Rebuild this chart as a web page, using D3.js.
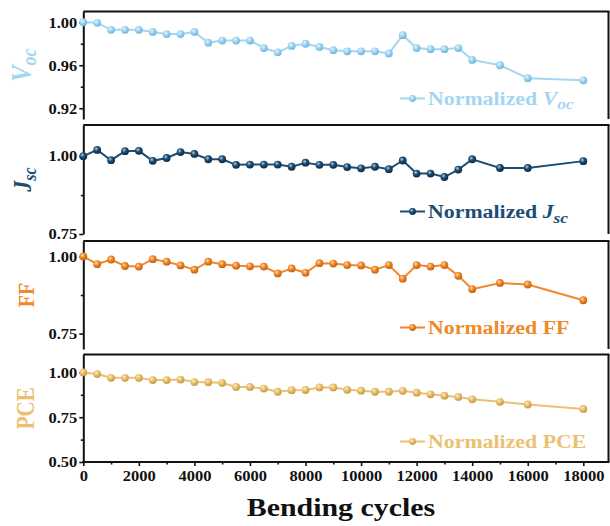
<!DOCTYPE html>
<html>
<head>
<meta charset="utf-8">
<script src="https://cdn.jsdelivr.net/npm/d3@7"></script>
<style>
  html, body { margin: 0; padding: 0; background: #fff; }
  svg { display: block; font-family: "Liberation Serif", "Times New Roman", serif; font-weight: bold; }
  .ya text { transform-box: fill-box; transform-origin: 100% 50%; transform: scaleX(1.1); }
  .xa text { transform-box: fill-box; transform-origin: 50% 50%; transform: scaleX(1.1); }
  .leg { transform-box: fill-box; transform-origin: 0% 50%; transform: scaleX(1.15); }
  .xtitle { transform-box: fill-box; transform-origin: 50% 50%; transform: scaleX(1.15); }
</style>
</head>
<body>
<svg id="chart" width="610" height="526"></svg>
<script>
// Bending cycles at which each device was measured
const cycles = [0, 500, 1000, 1500, 2000, 2500, 3000, 3500, 4000, 4500, 5000, 5500, 6000, 6500, 7000,
  7500, 8000, 8500, 9000, 9500, 10000, 10500, 11000, 11500, 12000, 12500, 13000, 13500, 14000,
  15000, 16000, 18000];

// Normalized photovoltaic parameters
const vocValues = [1.000, 0.9995, 0.993, 0.993, 0.993, 0.991, 0.989, 0.989, 0.991, 0.981, 0.983, 0.983,
  0.983, 0.976, 0.972, 0.978, 0.980, 0.977, 0.974, 0.973, 0.973, 0.973, 0.971, 0.988, 0.976, 0.975,
  0.975, 0.976, 0.965, 0.960, 0.948, 0.946];
const jscValues = [1.000, 1.020, 0.987, 1.016, 1.017, 0.985, 0.994, 1.013, 1.007, 0.990, 0.990, 0.972,
  0.973, 0.973, 0.973, 0.966, 0.979, 0.972, 0.972, 0.965, 0.961, 0.966, 0.958, 0.986, 0.944, 0.944,
  0.933, 0.957, 0.990, 0.962, 0.962, 0.984];
const ffValues = [1.000, 0.975, 0.990, 0.969, 0.967, 0.991, 0.983, 0.971, 0.957, 0.983, 0.975, 0.970,
  0.968, 0.967, 0.945, 0.961, 0.947, 0.978, 0.977, 0.972, 0.971, 0.957, 0.972, 0.928, 0.972, 0.967,
  0.972, 0.937, 0.894, 0.914, 0.909, 0.858];
const pceValues = [1.000, 0.991, 0.970, 0.970, 0.970, 0.957, 0.957, 0.960, 0.946, 0.945, 0.942, 0.919,
  0.919, 0.910, 0.892, 0.901, 0.902, 0.916, 0.916, 0.903, 0.898, 0.892, 0.892, 0.897, 0.887, 0.878,
  0.870, 0.863, 0.850, 0.836, 0.821, 0.796];

// Tick labels
const cycleTicks = [0, 2000, 4000, 6000, 8000, 10000, 12000, 14000, 16000, 18000];
const cycleMinor = [1000, 3000, 5000, 7000, 9000, 11000, 13000, 15000, 17000];
const vocTicks = [0.92, 0.96, 1.00];
const vocMinor = [0.94, 0.98];
const jscTicks = [0.75, 1.00];
const jscMinor = [0.875];
const ffTicks = [0.75, 1.00];
const ffMinor = [0.875];
const pceTicks = [0.50, 0.75, 1.00];
const pceMinor = [0.625, 0.875];

const svg = d3.select("#chart");
const left = 83.3, right = 608.5;
const x = d3.scaleLinear().domain([0, 18000]).range([left, 583.3]);

const panels = [
  { id: "voc", values: vocValues, color: "#a3d6f2", dark: "#6fb6dc", domain: [0.91, 1.01],
    ticks: vocTicks, minor: vocMinor, top: 11.5, bottom: 119, legendY: 105,
    title: [["V", 25, 0], ["oc", 18, 4]], titleX: 31, legend: [["V", true, 0], ["oc", true, 4]] },
  { id: "jsc", values: jscValues, color: "#1b4d75", dark: "#0d2c47", domain: [0.75, 1.10],
    ticks: jscTicks, minor: jscMinor, top: 125, bottom: 234, legendY: 218,
    title: [["J", 22, 0], ["sc", 16, 4]], titleX: 31, legend: [["J", true, 0], ["sc", true, 5]] },
  { id: "ff", values: ffValues, color: "#f0892a", dark: "#c4630d", domain: [0.70, 1.05],
    ticks: ffTicks, minor: ffMinor, top: 241, bottom: 349, legendY: 334,
    title: [["FF", 20, 0]], titleX: 34, legend: [["FF", false, 0]] },
  { id: "pce", values: pceValues, color: "#ebc171", dark: "#c79a3e", domain: [0.50, 1.10],
    ticks: pceTicks, minor: pceMinor, top: 354.5, bottom: 462, legendY: 448,
    title: [["PCE", 21, 0]], titleX: 34, legend: [["PCE", false, 0]] }
];

const defs = svg.append("defs");

panels.forEach((p) => {
  // shaded sphere look for the markers
  const grad = defs.append("radialGradient").attr("id", "g-" + p.id)
    .attr("cx", "38%").attr("cy", "35%").attr("r", "65%");
  grad.append("stop").attr("offset", "0%").attr("stop-color", d3.interpolateRgb(p.color, "#fff")(0.7));
  grad.append("stop").attr("offset", "45%").attr("stop-color", p.color);
  grad.append("stop").attr("offset", "100%").attr("stop-color", p.dark);

  const y = d3.scaleLinear().domain(p.domain).range([p.bottom, p.top]);
  const g = svg.append("g");

  // frame: top and right edges
  g.append("line").attr("x1", left).attr("x2", right + 1).attr("y1", p.top).attr("y2", p.top)
    .attr("stroke", "#111").attr("stroke-width", 2);
  g.append("line").attr("x1", right).attr("x2", right).attr("y1", p.top).attr("y2", p.bottom)
    .attr("stroke", "#111").attr("stroke-width", 2);

  // minor ticks on the left axis
  g.append("g").attr("transform", `translate(${left},0)`)
    .call(d3.axisLeft(y).tickValues(p.minor).tickSize(2.5).tickFormat(""))
    .call(a => a.select(".domain").remove())
    .call(a => a.selectAll("line").attr("stroke", "#111").attr("stroke-width", 1.6));

  // left axis with labels
  g.append("g").attr("class", "ya").attr("transform", `translate(${left},0)`)
    .call(d3.axisLeft(y).tickValues(p.ticks).tickSize(4).tickSizeOuter(0).tickPadding(2)
      .tickFormat(d3.format(".2f")))
    .call(a => a.select(".domain").attr("stroke", "#111").attr("stroke-width", 2))
    .call(a => a.selectAll("line").attr("stroke", "#111").attr("stroke-width", 1.6))
    .call(a => a.selectAll("text").attr("fill", "#111").style("font-size", "15px")
      .style("font-weight", "bold").style("font-family", "'Liberation Serif', serif"));

  // y title, rotated
  const tg = svg.append("g")
    .attr("transform", `translate(${p.titleX},${(p.top + p.bottom) / 2}) scale(1.15,1) rotate(-90)`);
  const tt = tg.append("text").attr("text-anchor", "middle").attr("fill", p.color)
    .style("font-style", p.title.length > 1 ? "italic" : "normal");
  p.title.forEach(([s, fs, dy]) => {
    tt.append("tspan").text(s).style("font-size", fs + "px").attr("dy", dy);
  });

  // series line and markers
  const pts = cycles.map((c, k) => [c, p.values[k]]);
  g.append("path").datum(pts)
    .attr("fill", "none").attr("stroke", p.color).attr("stroke-width", 2)
    .attr("d", d3.line().x(d => x(d[0])).y(d => y(d[1])));
  g.selectAll("circle.m").data(pts).join("circle").attr("class", "m")
    .attr("cx", d => x(d[0])).attr("cy", d => y(d[1])).attr("r", 3.9)
    .attr("fill", `url(#g-${p.id})`);

  // legend
  const ly = p.legendY - 6.5;
  g.append("line").attr("x1", 400).attr("x2", 425).attr("y1", ly).attr("y2", ly)
    .attr("stroke", p.color).attr("stroke-width", 2);
  g.append("circle").attr("cx", 412.5).attr("cy", ly).attr("r", 3.4)
    .attr("fill", `url(#g-${p.id})`);
  const lt = g.append("text").attr("class", "leg").attr("x", 428).attr("y", p.legendY)
    .attr("fill", p.color).style("font-size", "19px");
  lt.append("tspan").text("Normalized ");
  p.legend.forEach(([s, it, dy]) => {
    lt.append("tspan").text(s).style("font-style", it ? "italic" : "normal")
      .style("font-size", dy ? "15px" : "19px").attr("dy", dy);
  });
});

// bottom axis
const last = panels[panels.length - 1];
svg.append("line").attr("x1", left - 1).attr("x2", right + 1).attr("y1", last.bottom).attr("y2", last.bottom)
  .attr("stroke", "#111").attr("stroke-width", 2);
svg.append("g").attr("transform", `translate(0,${last.bottom})`)
  .call(d3.axisBottom(x).tickValues(cycleMinor).tickSize(2.5).tickFormat(""))
  .call(a => a.select(".domain").remove())
  .call(a => a.selectAll("line").attr("stroke", "#111").attr("stroke-width", 1.6));
svg.append("g").attr("class", "xa").attr("transform", `translate(0,${last.bottom})`)
  .call(d3.axisBottom(x).tickValues(cycleTicks).tickSize(4).tickSizeOuter(0).tickPadding(4)
    .tickFormat(d3.format("d")))
  .call(a => a.select(".domain").remove())
  .call(a => a.selectAll("line").attr("stroke", "#111").attr("stroke-width", 1.6))
  .call(a => a.selectAll("text").attr("fill", "#111").style("font-size", "15px")
    .style("font-weight", "bold").style("font-family", "'Liberation Serif', serif"));

svg.append("text").attr("class", "xtitle").attr("x", 341).attr("y", 516)
  .attr("text-anchor", "middle").attr("fill", "#111").style("font-size", "26px")
  .text("Bending cycles");
</script>
</body>
</html>
